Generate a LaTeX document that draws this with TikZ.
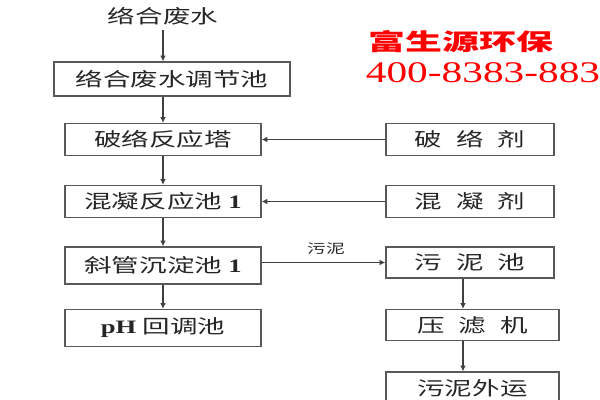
\documentclass[tikz,border=0pt]{standalone}
\usepackage{fontspec}
\setmainfont{Noto Sans CJK SC}[FakeStretch=1.45]
\newfontfamily\latinfont{Liberation Serif}[FakeStretch=1.4]
\newfontfamily\brandfont{Noto Sans CJK SC}[FakeStretch=1.6]
\newfontfamily\telfont{Liberation Serif}[FakeStretch=1.38]
\usetikzlibrary{arrows.meta}

\tikzset{
  box/.style={draw=black!65, line width=0.9pt, fill=white, minimum height=0.8cm,
    inner sep=0pt, text=black!85, font=\fontsize{13.5}{14}\selectfont},
  leftbox/.style={box, minimum width=4.9cm},
  rightbox/.style={box, minimum width=4.2cm},
  flow/.style={draw=black!75, line width=1.3pt, -{Latex[length=4pt,width=4pt]}},
}
\newcommand{\sep}{\hspace{0.35cm}}
\newcommand{\lat}[1]{{\latinfont\bfseries #1}}

\begin{document}
\begin{tikzpicture}[x=0.025cm, y=-0.025cm]
        \useasboundingbox (0,0) rectangle (600,400);

        % main line
        \node[text=black!85, font=\fontsize{13.5}{14}\selectfont] (title) at (163, 16) {络合废水};
        \node[box, minimum width=5.9cm, minimum height=0.85cm] (equal) at (172, 79) {络合废水调节池};
        \node[leftbox] (tower) at (163, 139.5) {破络反应塔};
        \node[leftbox] (coag) at (163, 201.5) {混凝反应池 \lat{1}};
        \node[leftbox, minimum height=0.925cm] (settle) at (163, 265.5) {斜管沉淀池 \lat{1}};
        \node[leftbox, minimum height=0.925cm] (ph) at (163, 328) {\lat{pH} 回调池};

        % dosing and sludge
        \node[rightbox] (breaker) at (470, 139.5) {破\sep 络\sep 剂};
        \node[rightbox] (coagent) at (470, 201.5) {混\sep 凝\sep 剂};
        \node[rightbox, minimum height=0.775cm] (sludge) at (470, 262.5) {污\sep 泥\sep 池};
        \node[rightbox, minimum width=4.325cm, minimum height=0.775cm] (press) at (472.5, 325) {压\sep 滤\sep 机};
        \node[rightbox, minimum width=4.325cm] (out) at (472.5, 388) {污泥外运};

        \node[text=black!85, font=\fontsize{9.2}{10}\selectfont] (sludgelabel) at (326, 249) {污泥};

        % brand
        \node[text=red, font=\fontsize{16.4}{17}\selectfont] (brand) at (461, 42) {\brandfont\bfseries 富生源环保};
        \node[text=red, font=\fontsize{21.3}{22}\selectfont] (tel) at (483, 73) {\telfont 400-8383-883};

        \draw[flow] (title) -- (title |- equal.north);
        \draw[flow] (tower |- equal.south) -- (tower);
        \draw[flow] (tower) -- (coag);
        \draw[flow] (coag) -- (settle);
        \draw[flow] (settle) -- (ph);
        \draw[flow] (breaker) -- (tower);
        \draw[flow] (coagent) -- (coag);
        \draw[flow] (settle.east |- sludge.west) -- (sludge.west);
        \draw[flow] (sludge.south -| 463,0) -- (press.north -| 463,0);
        \draw[flow] (press.south -| 463,0) -- (out.north -| 463,0);

    \end{tikzpicture}
\end{document}
